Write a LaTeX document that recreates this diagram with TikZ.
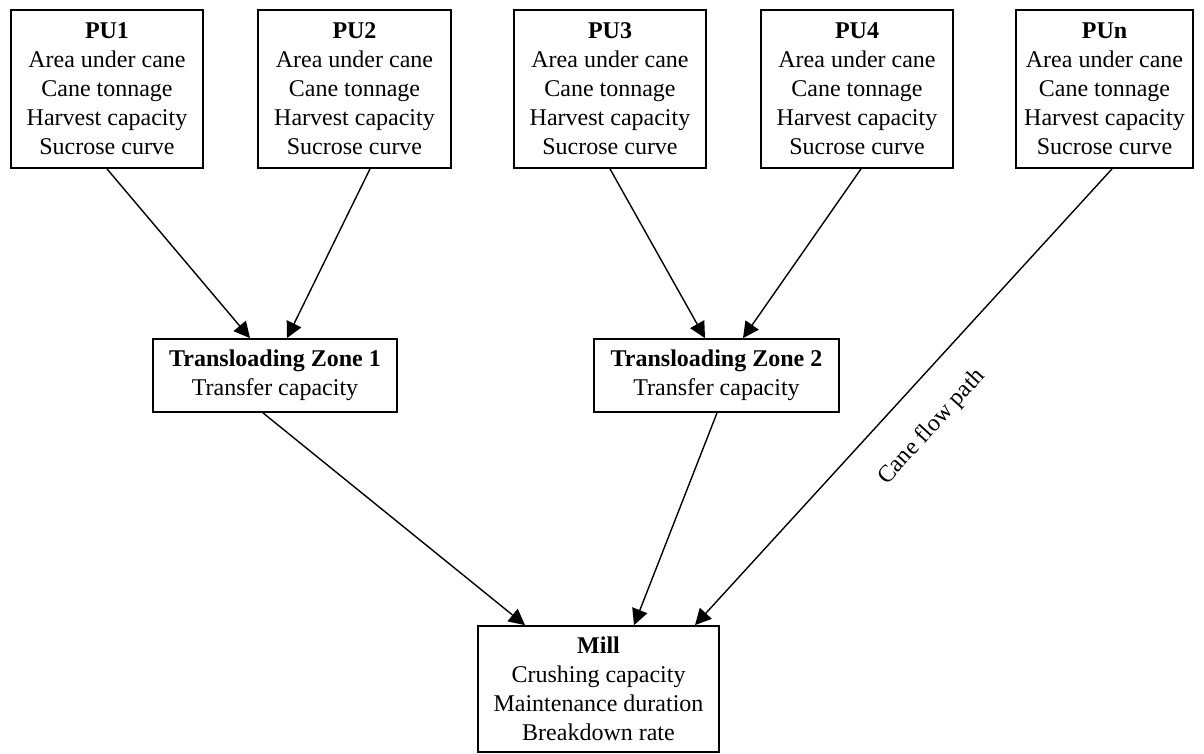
\documentclass[tikz,border=0pt]{standalone}
\usepackage{fontspec}
\setmainfont{Liberation Serif}
\usetikzlibrary{arrows.meta}
\begin{document}
\begin{tikzpicture}[x=1pt,y=-1pt,
  box/.style={draw, line width=1.8pt, align=center, inner sep=0pt,
              font=\fontsize{24}{29}\selectfont},
  pubox/.style={box, minimum height=158pt},
  flow/.style={line width=1.4pt, -{Triangle[length=16pt,width=16pt]}},
  lbl/.style={font=\fontsize{24}{29}\selectfont, inner sep=0pt}]
\useasboundingbox (0,0) rectangle (1204,753);
\fill[white] (0,0) rectangle (1204,753);
% production units
\node[pubox, minimum width=192pt] (pu1) at (107,89)
  {\textbf{PU1}\\Area under cane\\Cane tonnage\\Harvest capacity\\Sucrose curve};
\node[pubox, minimum width=193pt] (pu2) at (354.5,89)
  {\textbf{PU2}\\Area under cane\\Cane tonnage\\Harvest capacity\\Sucrose curve};
\node[pubox, minimum width=192pt] (pu3) at (610,89)
  {\textbf{PU3}\\Area under cane\\Cane tonnage\\Harvest capacity\\Sucrose curve};
\node[pubox, minimum width=192pt] (pu4) at (857,89)
  {\textbf{PU4}\\Area under cane\\Cane tonnage\\Harvest capacity\\Sucrose curve};
\node[pubox, minimum width=177pt] (pun) at (1104.5,89)
  {\textbf{PUn}\\Area under cane\\Cane tonnage\\Harvest capacity\\Sucrose curve};
% transloading zones
\node[box, minimum width=244pt, minimum height=73pt] (z1) at (275,375.5)
  {\textbf{Transloading Zone 1}\\Transfer capacity};
\node[box, minimum width=245pt, minimum height=73pt] (z2) at (716.5,375.5)
  {\textbf{Transloading Zone 2}\\Transfer capacity};
% mill
\node[box, minimum width=241pt, minimum height=126pt] (mill) at (598.5,689)
  {\textbf{Mill}\\Crushing capacity\\Maintenance duration\\Breakdown rate};
% connectors
\draw[flow] (pu1.south) -- ([xshift=-25pt]z1.north);
\draw[flow] ([xshift=15.5pt]pu2.south) -- ([xshift=12pt]z1.north);
\draw[flow] (pu3.south) -- ([xshift=-11.5pt]z2.north);
\draw[flow] ([xshift=4pt]pu4.south) -- ([xshift=26.5pt]z2.north);
\draw[flow] ([xshift=-12pt]z1.south) -- ([xshift=-73.5pt]mill.north);
\draw[flow] ([xshift=0.5pt]z2.south) -- ([xshift=35.5pt]mill.north);
\draw[flow] ([xshift=7.5pt]pun.south) -- ([xshift=96.5pt]mill.north);
% label
\node[lbl, rotate=47.7] (cfp) at (932,427) {Cane flow path};
\end{tikzpicture}
\end{document}
